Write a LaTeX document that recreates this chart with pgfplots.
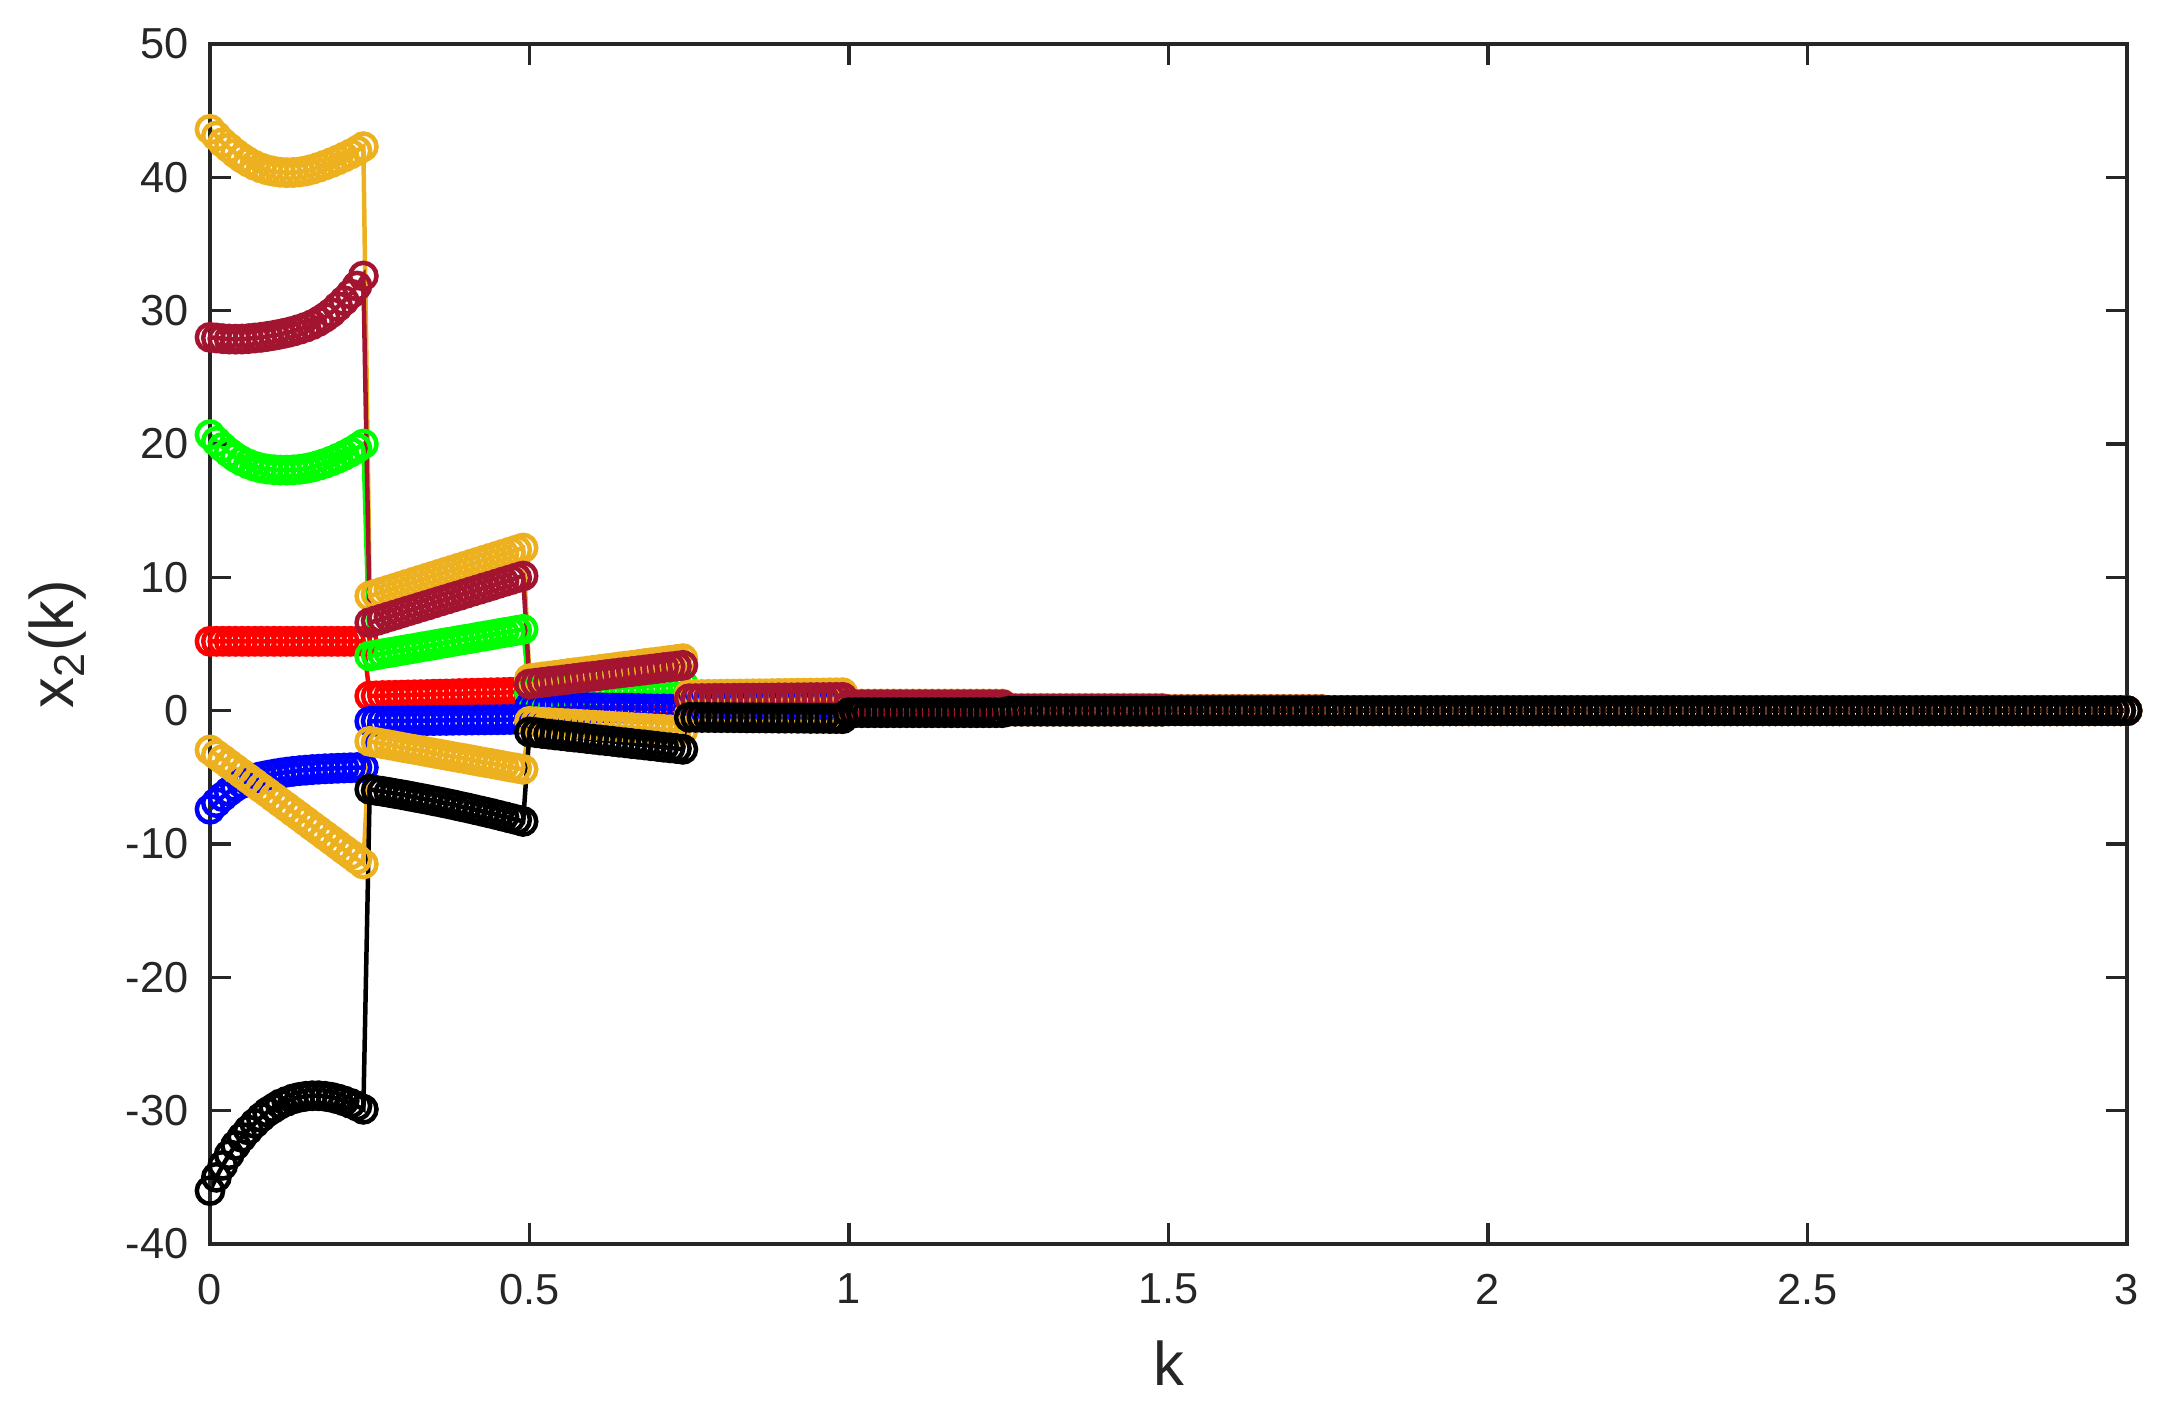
\documentclass[border=0pt]{standalone}
\usepackage{pgfplots}
\pgfplotsset{compat=1.18}
\usepackage{pgfplotstable}
\usepackage{fontspec}
\setmainfont{Liberation Sans}
\definecolor{myyel}{HTML}{EDB120}
\definecolor{mymar}{HTML}{A2142F}
\definecolor{mygrn}{HTML}{00FF00}
\definecolor{axgray}{HTML}{262626}
\pgfplotstableread{
k ya ma gr rd bl yb bk
0.00 43.6 28.0 20.7 5.2 -7.4 -2.95 -36.0
0.01 43.1 27.95 20.2 5.2 -6.9 -3.31 -35.0
0.02 42.6 27.9 19.75 5.2 -6.45 -3.66 -34.1
0.03 42.2 27.87 19.35 5.2 -6.05 -4.02 -33.3
0.04 41.8 27.86 19.0 5.2 -5.7 -4.37 -32.6
0.05 41.45 27.87 18.72 5.2 -5.45 -4.73 -32.0
0.06 41.15 27.9 18.5 5.2 -5.25 -5.09 -31.45
0.07 40.9 27.95 18.33 5.2 -5.08 -5.44 -30.95
0.08 40.7 28.0 18.2 5.2 -4.95 -5.8 -30.5
0.09 40.55 28.07 18.12 5.2 -4.85 -6.15 -30.1
0.10 40.45 28.15 18.07 5.2 -4.76 -6.51 -29.8
0.11 40.38 28.24 18.04 5.2 -4.68 -6.87 -29.5
0.12 40.35 28.34 18.04 5.2 -4.61 -7.22 -29.3
0.13 40.36 28.46 18.06 5.2 -4.55 -7.58 -29.12
0.14 40.4 28.6 18.1 5.2 -4.5 -7.93 -29.0
0.15 40.48 28.76 18.17 5.2 -4.46 -8.29 -28.92
0.16 40.6 28.95 18.27 5.2 -4.42 -8.65 -28.88
0.17 40.75 29.2 18.4 5.2 -4.39 -9.0 -28.88
0.18 40.92 29.5 18.55 5.2 -4.36 -9.36 -28.92
0.19 41.1 29.85 18.73 5.2 -4.34 -9.71 -29.0
0.20 41.3 30.3 18.93 5.2 -4.32 -10.07 -29.12
0.21 41.52 30.75 19.15 5.2 -4.3 -10.43 -29.27
0.22 41.75 31.25 19.4 5.2 -4.28 -10.78 -29.45
0.23 42.0 31.85 19.68 5.2 -4.27 -11.14 -29.65
0.24 42.3 32.6 20.0 5.2 -4.26 -11.5 -29.9
0.25 8.6 6.6 4.1 1.1 -0.8 -2.3 -5.9
0.26 8.75 6.75 4.18 1.11 -0.79 -2.39 -5.98
0.27 8.9 6.89 4.27 1.13 -0.79 -2.48 -6.05
0.28 9.05 7.04 4.35 1.14 -0.78 -2.56 -6.13
0.29 9.2 7.18 4.43 1.15 -0.78 -2.65 -6.22
0.30 9.35 7.33 4.52 1.16 -0.77 -2.74 -6.3
0.31 9.5 7.48 4.6 1.18 -0.76 -2.83 -6.39
0.32 9.65 7.62 4.68 1.19 -0.76 -2.91 -6.48
0.33 9.8 7.77 4.77 1.2 -0.75 -3.0 -6.57
0.34 9.95 7.91 4.85 1.21 -0.74 -3.09 -6.66
0.35 10.1 8.06 4.93 1.23 -0.74 -3.18 -6.76
0.36 10.25 8.21 5.02 1.24 -0.73 -3.26 -6.85
0.37 10.4 8.35 5.1 1.25 -0.73 -3.35 -6.95
0.38 10.55 8.5 5.18 1.26 -0.72 -3.44 -7.05
0.39 10.7 8.64 5.27 1.28 -0.71 -3.53 -7.16
0.40 10.85 8.79 5.35 1.29 -0.71 -3.61 -7.26
0.41 11.0 8.94 5.43 1.3 -0.7 -3.7 -7.37
0.42 11.15 9.08 5.52 1.31 -0.69 -3.79 -7.48
0.43 11.3 9.23 5.6 1.33 -0.69 -3.88 -7.59
0.44 11.45 9.37 5.68 1.34 -0.68 -3.96 -7.7
0.45 11.6 9.52 5.77 1.35 -0.68 -4.05 -7.82
0.46 11.75 9.67 5.85 1.36 -0.67 -4.14 -7.94
0.47 11.9 9.81 5.93 1.38 -0.66 -4.23 -8.06
0.48 12.05 9.96 6.02 1.39 -0.66 -4.31 -8.18
0.49 12.2 10.1 6.1 1.4 -0.65 -4.4 -8.31
0.50 2.4 2.0 1.3 0.25 0.3 -0.8 -1.6
0.51 2.46 2.06 1.33 0.25 0.29 -0.83 -1.65
0.52 2.53 2.12 1.36 0.25 0.28 -0.86 -1.71
0.53 2.59 2.18 1.39 0.25 0.28 -0.89 -1.76
0.54 2.65 2.23 1.42 0.25 0.27 -0.92 -1.82
0.55 2.71 2.29 1.45 0.25 0.26 -0.95 -1.87
0.56 2.78 2.35 1.48 0.25 0.25 -0.98 -1.93
0.57 2.84 2.41 1.5 0.25 0.24 -1.0 -1.98
0.58 2.9 2.47 1.53 0.25 0.23 -1.03 -2.03
0.59 2.96 2.53 1.56 0.25 0.23 -1.06 -2.09
0.60 3.03 2.58 1.59 0.25 0.22 -1.09 -2.14
0.61 3.09 2.64 1.62 0.25 0.21 -1.12 -2.2
0.62 3.15 2.7 1.65 0.25 0.2 -1.15 -2.25
0.63 3.21 2.76 1.68 0.25 0.19 -1.18 -2.3
0.64 3.28 2.82 1.71 0.25 0.18 -1.21 -2.36
0.65 3.34 2.88 1.74 0.25 0.18 -1.24 -2.41
0.66 3.4 2.93 1.77 0.25 0.17 -1.27 -2.47
0.67 3.46 2.99 1.8 0.25 0.16 -1.3 -2.52
0.68 3.53 3.05 1.82 0.25 0.15 -1.32 -2.57
0.69 3.59 3.11 1.85 0.25 0.14 -1.35 -2.63
0.70 3.65 3.17 1.88 0.25 0.13 -1.38 -2.68
0.71 3.71 3.23 1.91 0.25 0.13 -1.41 -2.74
0.72 3.78 3.28 1.94 0.25 0.12 -1.44 -2.79
0.73 3.84 3.34 1.97 0.25 0.11 -1.47 -2.84
0.74 3.9 3.4 2.0 0.25 0.1 -1.5 -2.9
0.75 1.2 0.9 0.6 0.1 0.2 -0.3 -0.5
0.76 1.21 0.9 0.6 0.1 0.2 -0.3 -0.5
0.77 1.21 0.91 0.6 0.1 0.2 -0.31 -0.51
0.78 1.22 0.91 0.6 0.1 0.2 -0.31 -0.51
0.79 1.22 0.92 0.6 0.1 0.2 -0.32 -0.52
0.80 1.23 0.92 0.6 0.1 0.2 -0.32 -0.52
0.81 1.24 0.92 0.6 0.1 0.2 -0.32 -0.52
0.82 1.24 0.93 0.6 0.1 0.2 -0.33 -0.53
0.83 1.25 0.93 0.6 0.1 0.2 -0.33 -0.53
0.84 1.26 0.94 0.6 0.1 0.2 -0.34 -0.54
0.85 1.26 0.94 0.6 0.1 0.2 -0.34 -0.54
0.86 1.27 0.94 0.6 0.1 0.2 -0.34 -0.54
0.87 1.27 0.95 0.6 0.1 0.2 -0.35 -0.55
0.88 1.28 0.95 0.6 0.1 0.2 -0.35 -0.55
0.89 1.29 0.96 0.6 0.1 0.2 -0.36 -0.56
0.90 1.29 0.96 0.6 0.1 0.2 -0.36 -0.56
0.91 1.3 0.96 0.6 0.1 0.2 -0.36 -0.56
0.92 1.31 0.97 0.6 0.1 0.2 -0.37 -0.57
0.93 1.31 0.97 0.6 0.1 0.2 -0.37 -0.57
0.94 1.32 0.98 0.6 0.1 0.2 -0.38 -0.58
0.95 1.32 0.98 0.6 0.1 0.2 -0.38 -0.58
0.96 1.33 0.98 0.6 0.1 0.2 -0.38 -0.58
0.97 1.34 0.99 0.6 0.1 0.2 -0.39 -0.59
0.98 1.34 0.99 0.6 0.1 0.2 -0.39 -0.59
0.99 1.35 1.0 0.6 0.1 0.2 -0.4 -0.6
1.00 0.5 0.45 0.3 0.05 0 -0.1 -0.15
1.01 0.5 0.45 0.3 0.05 0 -0.1 -0.15
1.02 0.5 0.45 0.3 0.05 0 -0.1 -0.15
1.03 0.5 0.45 0.3 0.05 0 -0.1 -0.15
1.04 0.5 0.45 0.3 0.05 0 -0.1 -0.15
1.05 0.5 0.45 0.3 0.05 0 -0.1 -0.15
1.06 0.5 0.45 0.3 0.05 0 -0.1 -0.15
1.07 0.5 0.45 0.3 0.05 0 -0.1 -0.15
1.08 0.5 0.45 0.3 0.05 0 -0.1 -0.15
1.09 0.5 0.45 0.3 0.05 0 -0.1 -0.15
1.10 0.5 0.45 0.3 0.05 0 -0.1 -0.15
1.11 0.5 0.45 0.3 0.05 0 -0.1 -0.15
1.12 0.5 0.45 0.3 0.05 0 -0.1 -0.15
1.13 0.5 0.45 0.3 0.05 0 -0.1 -0.15
1.14 0.5 0.45 0.3 0.05 0 -0.1 -0.15
1.15 0.5 0.45 0.3 0.05 0 -0.1 -0.15
1.16 0.5 0.45 0.3 0.05 0 -0.1 -0.15
1.17 0.5 0.45 0.3 0.05 0 -0.1 -0.15
1.18 0.5 0.45 0.3 0.05 0 -0.1 -0.15
1.19 0.5 0.45 0.3 0.05 0 -0.1 -0.15
1.20 0.5 0.45 0.3 0.05 0 -0.1 -0.15
1.21 0.5 0.45 0.3 0.05 0 -0.1 -0.15
1.22 0.5 0.45 0.3 0.05 0 -0.1 -0.15
1.23 0.5 0.45 0.3 0.05 0 -0.1 -0.15
1.24 0.5 0.45 0.3 0.05 0 -0.1 -0.15
1.25 0.18 0.13 0.1 0.02 0 -0.03 -0.04
1.26 0.18 0.13 0.1 0.02 0 -0.03 -0.04
1.27 0.18 0.13 0.1 0.02 0 -0.03 -0.04
1.28 0.18 0.13 0.1 0.02 0 -0.03 -0.04
1.29 0.18 0.13 0.1 0.02 0 -0.03 -0.04
1.30 0.18 0.13 0.1 0.02 0 -0.03 -0.04
1.31 0.18 0.13 0.1 0.02 0 -0.03 -0.04
1.32 0.18 0.13 0.1 0.02 0 -0.03 -0.04
1.33 0.18 0.13 0.1 0.02 0 -0.03 -0.04
1.34 0.18 0.13 0.1 0.02 0 -0.03 -0.04
1.35 0.18 0.13 0.1 0.02 0 -0.03 -0.04
1.36 0.18 0.13 0.1 0.02 0 -0.03 -0.04
1.37 0.18 0.13 0.1 0.02 0 -0.03 -0.04
1.38 0.18 0.13 0.1 0.02 0 -0.03 -0.04
1.39 0.18 0.13 0.1 0.02 0 -0.03 -0.04
1.40 0.18 0.13 0.1 0.02 0 -0.03 -0.04
1.41 0.18 0.13 0.1 0.02 0 -0.03 -0.04
1.42 0.18 0.13 0.1 0.02 0 -0.03 -0.04
1.43 0.18 0.13 0.1 0.02 0 -0.03 -0.04
1.44 0.18 0.13 0.1 0.02 0 -0.03 -0.04
1.45 0.18 0.13 0.1 0.02 0 -0.03 -0.04
1.46 0.18 0.13 0.1 0.02 0 -0.03 -0.04
1.47 0.18 0.13 0.1 0.02 0 -0.03 -0.04
1.48 0.18 0.13 0.1 0.02 0 -0.03 -0.04
1.49 0.18 0.13 0.1 0.02 0 -0.03 -0.04
1.50 0.08 0.07 0.05 0.01 0 -0.01 -0.01
1.51 0.08 0.07 0.05 0.01 0 -0.01 -0.01
1.52 0.08 0.07 0.05 0.01 0 -0.01 -0.01
1.53 0.08 0.07 0.05 0.01 0 -0.01 -0.01
1.54 0.08 0.07 0.05 0.01 0 -0.01 -0.01
1.55 0.08 0.07 0.05 0.01 0 -0.01 -0.01
1.56 0.08 0.07 0.05 0.01 0 -0.01 -0.01
1.57 0.08 0.07 0.05 0.01 0 -0.01 -0.01
1.58 0.08 0.07 0.05 0.01 0 -0.01 -0.01
1.59 0.08 0.07 0.05 0.01 0 -0.01 -0.01
1.60 0.08 0.07 0.05 0.01 0 -0.01 -0.01
1.61 0.08 0.07 0.05 0.01 0 -0.01 -0.01
1.62 0.08 0.07 0.05 0.01 0 -0.01 -0.01
1.63 0.08 0.07 0.05 0.01 0 -0.01 -0.01
1.64 0.08 0.07 0.05 0.01 0 -0.01 -0.01
1.65 0.08 0.07 0.05 0.01 0 -0.01 -0.01
1.66 0.08 0.07 0.05 0.01 0 -0.01 -0.01
1.67 0.08 0.07 0.05 0.01 0 -0.01 -0.01
1.68 0.08 0.07 0.05 0.01 0 -0.01 -0.01
1.69 0.08 0.07 0.05 0.01 0 -0.01 -0.01
1.70 0.08 0.07 0.05 0.01 0 -0.01 -0.01
1.71 0.08 0.07 0.05 0.01 0 -0.01 -0.01
1.72 0.08 0.07 0.05 0.01 0 -0.01 -0.01
1.73 0.08 0.07 0.05 0.01 0 -0.01 -0.01
1.74 0.08 0.07 0.05 0.01 0 -0.01 -0.01
1.75 0 0 0 0 0 0 0
1.76 0 0 0 0 0 0 0
1.77 0 0 0 0 0 0 0
1.78 0 0 0 0 0 0 0
1.79 0 0 0 0 0 0 0
1.80 0 0 0 0 0 0 0
1.81 0 0 0 0 0 0 0
1.82 0 0 0 0 0 0 0
1.83 0 0 0 0 0 0 0
1.84 0 0 0 0 0 0 0
1.85 0 0 0 0 0 0 0
1.86 0 0 0 0 0 0 0
1.87 0 0 0 0 0 0 0
1.88 0 0 0 0 0 0 0
1.89 0 0 0 0 0 0 0
1.90 0 0 0 0 0 0 0
1.91 0 0 0 0 0 0 0
1.92 0 0 0 0 0 0 0
1.93 0 0 0 0 0 0 0
1.94 0 0 0 0 0 0 0
1.95 0 0 0 0 0 0 0
1.96 0 0 0 0 0 0 0
1.97 0 0 0 0 0 0 0
1.98 0 0 0 0 0 0 0
1.99 0 0 0 0 0 0 0
2.00 0 0 0 0 0 0 0
2.01 0 0 0 0 0 0 0
2.02 0 0 0 0 0 0 0
2.03 0 0 0 0 0 0 0
2.04 0 0 0 0 0 0 0
2.05 0 0 0 0 0 0 0
2.06 0 0 0 0 0 0 0
2.07 0 0 0 0 0 0 0
2.08 0 0 0 0 0 0 0
2.09 0 0 0 0 0 0 0
2.10 0 0 0 0 0 0 0
2.11 0 0 0 0 0 0 0
2.12 0 0 0 0 0 0 0
2.13 0 0 0 0 0 0 0
2.14 0 0 0 0 0 0 0
2.15 0 0 0 0 0 0 0
2.16 0 0 0 0 0 0 0
2.17 0 0 0 0 0 0 0
2.18 0 0 0 0 0 0 0
2.19 0 0 0 0 0 0 0
2.20 0 0 0 0 0 0 0
2.21 0 0 0 0 0 0 0
2.22 0 0 0 0 0 0 0
2.23 0 0 0 0 0 0 0
2.24 0 0 0 0 0 0 0
2.25 0 0 0 0 0 0 0
2.26 0 0 0 0 0 0 0
2.27 0 0 0 0 0 0 0
2.28 0 0 0 0 0 0 0
2.29 0 0 0 0 0 0 0
2.30 0 0 0 0 0 0 0
2.31 0 0 0 0 0 0 0
2.32 0 0 0 0 0 0 0
2.33 0 0 0 0 0 0 0
2.34 0 0 0 0 0 0 0
2.35 0 0 0 0 0 0 0
2.36 0 0 0 0 0 0 0
2.37 0 0 0 0 0 0 0
2.38 0 0 0 0 0 0 0
2.39 0 0 0 0 0 0 0
2.40 0 0 0 0 0 0 0
2.41 0 0 0 0 0 0 0
2.42 0 0 0 0 0 0 0
2.43 0 0 0 0 0 0 0
2.44 0 0 0 0 0 0 0
2.45 0 0 0 0 0 0 0
2.46 0 0 0 0 0 0 0
2.47 0 0 0 0 0 0 0
2.48 0 0 0 0 0 0 0
2.49 0 0 0 0 0 0 0
2.50 0 0 0 0 0 0 0
2.51 0 0 0 0 0 0 0
2.52 0 0 0 0 0 0 0
2.53 0 0 0 0 0 0 0
2.54 0 0 0 0 0 0 0
2.55 0 0 0 0 0 0 0
2.56 0 0 0 0 0 0 0
2.57 0 0 0 0 0 0 0
2.58 0 0 0 0 0 0 0
2.59 0 0 0 0 0 0 0
2.60 0 0 0 0 0 0 0
2.61 0 0 0 0 0 0 0
2.62 0 0 0 0 0 0 0
2.63 0 0 0 0 0 0 0
2.64 0 0 0 0 0 0 0
2.65 0 0 0 0 0 0 0
2.66 0 0 0 0 0 0 0
2.67 0 0 0 0 0 0 0
2.68 0 0 0 0 0 0 0
2.69 0 0 0 0 0 0 0
2.70 0 0 0 0 0 0 0
2.71 0 0 0 0 0 0 0
2.72 0 0 0 0 0 0 0
2.73 0 0 0 0 0 0 0
2.74 0 0 0 0 0 0 0
2.75 0 0 0 0 0 0 0
2.76 0 0 0 0 0 0 0
2.77 0 0 0 0 0 0 0
2.78 0 0 0 0 0 0 0
2.79 0 0 0 0 0 0 0
2.80 0 0 0 0 0 0 0
2.81 0 0 0 0 0 0 0
2.82 0 0 0 0 0 0 0
2.83 0 0 0 0 0 0 0
2.84 0 0 0 0 0 0 0
2.85 0 0 0 0 0 0 0
2.86 0 0 0 0 0 0 0
2.87 0 0 0 0 0 0 0
2.88 0 0 0 0 0 0 0
2.89 0 0 0 0 0 0 0
2.90 0 0 0 0 0 0 0
2.91 0 0 0 0 0 0 0
2.92 0 0 0 0 0 0 0
2.93 0 0 0 0 0 0 0
2.94 0 0 0 0 0 0 0
2.95 0 0 0 0 0 0 0
2.96 0 0 0 0 0 0 0
2.97 0 0 0 0 0 0 0
2.98 0 0 0 0 0 0 0
2.99 0 0 0 0 0 0 0
3.00 0 0 0 0 0 0 0
}\data
\begin{document}
\begin{tikzpicture}
\begin{axis}[
  scale only axis, width=575.1pt, height=360pt,
  xmin=0, xmax=3, ymin=-40, ymax=50,
  xtick={0,0.5,1,1.5,2,2.5,3}, ytick={-40,-30,-20,-10,0,10,20,30,40,50},
  tick align=inside, major tick length=6.2pt,
  axis line style={axgray, line width=1pt},
  every tick/.style={axgray, line width=1pt},
  tick label style={font=\fontsize{13}{15}\selectfont, text=axgray},
  label style={font=\fontsize{18.5}{21}\selectfont, text=axgray},
  xticklabel style={yshift=-5.5pt},
  yticklabel style={xshift=-3pt},
  /pgf/number format/assume math mode=true,
  xlabel={k}, ylabel={x\textsubscript{2}(k)},
  xlabel style={at={(axis description cs:0.5,0)}, anchor=base, yshift=-42.5pt},
  ylabel style={at={(axis description cs:-0.0793,0.5)}, anchor=center},
  clip=false, axis on top,
  every axis plot/.append style={line width=1.35pt, mark=o, mark size=3.95pt},
]
\addplot[red] table[x=k,y=rd]{\data};
\addplot[mygrn] table[x=k,y=gr]{\data};
\addplot[blue] table[x=k,y=bl]{\data};
\addplot[myyel] table[x=k,y=yb]{\data};
\addplot[myyel] table[x=k,y=ya]{\data};
\addplot[mymar] table[x=k,y=ma]{\data};
\addplot[black] table[x=k,y=bk]{\data};
\end{axis}
\path ([shift={(-63pt,-51.6pt)}]current axis.south west) rectangle ([shift={(11.7pt,13.2pt)}]current axis.north east);
\end{tikzpicture}
\end{document}
